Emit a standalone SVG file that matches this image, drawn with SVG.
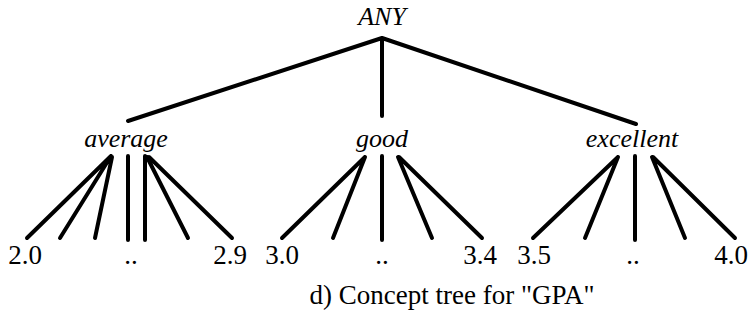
<svg xmlns="http://www.w3.org/2000/svg" width="754" height="322" viewBox="0 0 754 322">
<rect width="754" height="322" fill="#fff"/>
<g id="connectors" stroke="#000" stroke-width="4" stroke-linecap="round" fill="none">
<path d="M382 38 L128 121 M382 38 L382 116 M382 38 L636 124"/>
<path d="M111 156 L27 238 M111 156 L60 238 M112 157 L95 238 M128 156 L128 240 M145 156 L145 240 M147 157 L188 238 M149 157 L232 238"/>
<path d="M365 157 L282 238 M365 157 L333 238 M382 156 L382 240 M398 157 L432 238 M399 157 L482 238"/>
<path d="M618 157 L533 238 M618 157 L585 238 M635 156 L635 240 M652 157 L685 238 M653 157 L735 238"/>
</g>
<g id="n-any"><text font-family="Liberation Serif" font-style="italic" font-size="26" text-anchor="middle" x="382" y="25">ANY</text></g>
<g id="n-average"><text font-family="Liberation Serif" font-style="italic" font-size="26" text-anchor="middle" x="126" y="147">average</text></g>
<g id="n-good"><text font-family="Liberation Serif" font-style="italic" font-size="26" text-anchor="middle" x="382" y="147">good</text></g>
<g id="n-excellent"><text font-family="Liberation Serif" font-style="italic" font-size="26" text-anchor="middle" x="632" y="147">excellent</text></g>
<g id="n-2-0"><text font-family="Liberation Serif" font-size="27" text-anchor="middle" x="25" y="264">2.0</text></g>
<g id="n-dots1"><text font-family="Liberation Serif" font-size="27" text-anchor="middle" x="131" y="264">..</text></g>
<g id="n-2-9"><text font-family="Liberation Serif" font-size="27" text-anchor="middle" x="230" y="264">2.9</text></g>
<g id="n-3-0"><text font-family="Liberation Serif" font-size="27" text-anchor="middle" x="282" y="264">3.0</text></g>
<g id="n-dots2"><text font-family="Liberation Serif" font-size="27" text-anchor="middle" x="382" y="264">..</text></g>
<g id="n-3-4"><text font-family="Liberation Serif" font-size="27" text-anchor="middle" x="480" y="264">3.4</text></g>
<g id="n-3-5"><text font-family="Liberation Serif" font-size="27" text-anchor="middle" x="534" y="264">3.5</text></g>
<g id="n-dots3"><text font-family="Liberation Serif" font-size="27" text-anchor="middle" x="633" y="264">..</text></g>
<g id="n-4-0"><text font-family="Liberation Serif" font-size="27" text-anchor="middle" x="731" y="264">4.0</text></g>
<g id="caption"><text font-family="Liberation Serif" font-size="27" text-anchor="middle" x="452" y="304">d) Concept tree for "GPA"</text></g>
</svg>
